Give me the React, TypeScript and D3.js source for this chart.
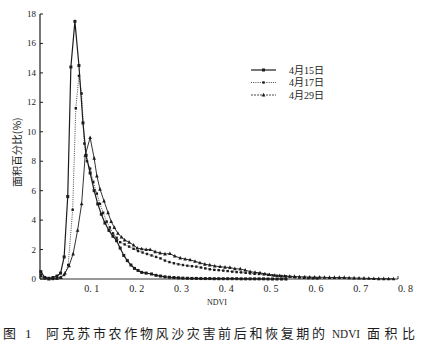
import React from "react";
import * as d3 from "d3";

type P = [number, number];

const seriesNames = ["4月15日", "4月17日", "4月29日"];
const xTicks = [0.1, 0.2, 0.3, 0.4, 0.5, 0.6, 0.7, 0.8];
const xTickLabels = ["0. 1", "0. 2", "0. 3", "0. 4", "0. 5", "0. 6", "0. 7", "0. 8"];
const yTicks = [0, 2, 4, 6, 8, 10, 12, 14, 16, 18];

const apr15: P[] = [
  [0.003, 0.5], [0.012, 0.1], [0.021, 0.05], [0.03, 0.1], [0.039, 0.2], [0.047, 0.4],
  [0.055, 1.5], [0.063, 5.6], [0.07, 14.4], [0.079, 17.5], [0.088, 14.5], [0.097, 10.6],
  [0.104, 8.4], [0.113, 7.2], [0.122, 6.0], [0.13, 5.1], [0.138, 4.4], [0.146, 3.8],
  [0.155, 3.3], [0.164, 2.9], [0.172, 2.6], [0.18, 2.1], [0.188, 1.6], [0.196, 1.25],
  [0.204, 0.95], [0.212, 0.72], [0.22, 0.58], [0.228, 0.45], [0.238, 0.4], [0.25, 0.34],
  [0.26, 0.25], [0.27, 0.2], [0.28, 0.15], [0.29, 0.12], [0.3, 0.1], [0.31, 0.08],
  [0.32, 0.06], [0.33, 0.05], [0.34, 0.04], [0.35, 0.04], [0.36, 0.03], [0.37, 0.03],
  [0.38, 0.03], [0.39, 0.02], [0.4, 0.02], [0.41, 0.02], [0.42, 0.02], [0.43, 0.02],
  [0.44, 0.02], [0.45, 0.01], [0.46, 0.01], [0.47, 0.01], [0.48, 0.01], [0.49, 0.01],
  [0.5, 0.01], [0.51, 0], [0.52, 0], [0.53, 0], [0.54, 0], [0.55, 0],
];

const apr17: P[] = [
  [0.003, 0.3], [0.012, 0.1], [0.021, 0.05], [0.03, 0], [0.039, 0.05], [0.047, 0.1],
  [0.055, 0.27], [0.064, 0.95], [0.074, 4.7], [0.081, 11.6], [0.088, 13.8], [0.094, 12.6],
  [0.1, 9.2], [0.106, 8.0], [0.113, 7.5], [0.12, 6.6], [0.128, 5.8], [0.135, 5.1],
  [0.142, 4.5], [0.15, 3.9], [0.157, 3.5], [0.164, 3.1], [0.172, 2.8], [0.18, 2.5],
  [0.19, 2.35], [0.2, 2.2], [0.21, 2.05], [0.22, 1.9], [0.23, 1.8], [0.24, 1.7],
  [0.25, 1.6], [0.26, 1.5], [0.27, 1.4], [0.28, 1.25], [0.29, 1.15], [0.3, 1.07],
  [0.31, 1.0], [0.32, 0.95], [0.33, 0.9], [0.34, 0.87], [0.35, 0.84], [0.36, 0.78],
  [0.37, 0.72], [0.38, 0.66], [0.39, 0.62], [0.4, 0.6], [0.41, 0.57], [0.42, 0.54],
  [0.43, 0.5], [0.44, 0.47], [0.45, 0.45], [0.46, 0.42], [0.47, 0.38], [0.48, 0.35],
  [0.49, 0.34], [0.5, 0.32], [0.51, 0.28], [0.52, 0.25], [0.53, 0.22], [0.54, 0.2],
  [0.55, 0.18], [0.56, 0.15], [0.57, 0.12], [0.58, 0.1], [0.59, 0.08], [0.6, 0.06],
  [0.61, 0.05], [0.62, 0.04],
];

const apr29: P[] = [
  [0.003, 0.2], [0.012, 0.05], [0.021, 0], [0.03, 0.05], [0.039, 0.05], [0.048, 0.1],
  [0.057, 0.4], [0.066, 0.9], [0.075, 1.7], [0.085, 3.3], [0.094, 5.1], [0.102, 8.4],
  [0.113, 9.6], [0.122, 8.2], [0.128, 7.0], [0.135, 6.1], [0.144, 5.3], [0.153, 4.5],
  [0.16, 3.9], [0.167, 3.5], [0.175, 3.1], [0.183, 2.85], [0.19, 2.65], [0.2, 2.5],
  [0.21, 2.3], [0.218, 2.1], [0.228, 2.05], [0.238, 2.0], [0.247, 2.0], [0.258, 1.85],
  [0.269, 1.77], [0.28, 1.7], [0.291, 1.72], [0.302, 1.55], [0.314, 1.43], [0.325, 1.35],
  [0.336, 1.3], [0.347, 1.2], [0.358, 1.1], [0.369, 1.0], [0.38, 0.95], [0.391, 0.88],
  [0.403, 0.84], [0.414, 0.8], [0.425, 0.78], [0.436, 0.7], [0.448, 0.68], [0.459, 0.6],
  [0.47, 0.5], [0.481, 0.45], [0.492, 0.42], [0.503, 0.35], [0.513, 0.3], [0.525, 0.25],
  [0.536, 0.22], [0.547, 0.2], [0.558, 0.18], [0.569, 0.17], [0.58, 0.15], [0.592, 0.14],
  [0.603, 0.13], [0.614, 0.12], [0.625, 0.12], [0.636, 0.11], [0.647, 0.1], [0.658, 0.1],
  [0.669, 0.1], [0.68, 0.1], [0.691, 0.08], [0.702, 0.07], [0.713, 0.06], [0.724, 0.05],
  [0.735, 0.04], [0.746, 0.03], [0.757, 0.02], [0.768, 0.02], [0.779, 0.01], [0.79, 0.01],
];

const INK = "#1c1c1c";
const SERIF = "'Liberation Serif', 'DejaVu Serif', serif";
const CJK = "'Noto Sans CJK SC', sans-serif";

export default function App() {
  const x = d3.scaleLinear().domain([0, 0.8]).range([39.5, 398]);
  const y = d3.scaleLinear().domain([0, 18]).range([279, 14]);
  const line = d3.line<P>().x((d) => x(d[0])).y((d) => y(d[1]));

  const sq = (d: P, s: number, k: string) => (
    <rect key={k} x={x(d[0]) - s / 2} y={y(d[1]) - s / 2} width={s} height={s} fill={INK} />
  );
  const tri = (cx: number, cy: number, s: number, k: string) => (
    <path
      key={k}
      d={`M${cx},${cy - s * 0.6}L${cx + s / 2},${cy + s * 0.4}L${cx - s / 2},${cy + s * 0.4}Z`}
      fill={INK}
    />
  );

  const legendY = [70, 82.5, 95];
  const lx0 = 251, lx1 = 276, lmid = 263.5;

  return (
    <svg
      width={437}
      height={351}
      style={{ position: "absolute", left: 0, top: 0, background: "#fff" }}
    >
      {/* y axis */}
      <line x1={40} x2={40} y1={y(0)} y2={y(18)} stroke={INK} strokeWidth={1.2} />
      {yTicks.map((t) => (
        <g key={t}>
          <line x1={40} x2={43} y1={y(t)} y2={y(t)} stroke={INK} strokeWidth={1} />
          <text x={36} y={y(t)} dy="0.33em" textAnchor="end" fontFamily={SERIF} fontSize={9} fill={INK}>
            {t}
          </text>
        </g>
      ))}
      {/* x baseline */}
      <line x1={40} x2={x(0.8)} y1={y(0)} y2={y(0)} stroke={INK} strokeWidth={0.9} />
      <line x1={x(0.8)} x2={x(0.8)} y1={y(0)} y2={y(0) - 3} stroke={INK} strokeWidth={0.9} />
      {xTicks.map((t, i) => (
        <text key={t} x={x(t)} y={292} textAnchor="start" fontFamily={SERIF} fontSize={10} fill={INK}>
          {xTickLabels[i]}
        </text>
      ))}
      <text x={217} y={305} textAnchor="middle" fontFamily={SERIF} fontSize={8} fill={INK}>
        NDVI
      </text>
      <text
        transform="translate(21,152) rotate(-90)"
        textAnchor="middle"
        fontFamily={CJK}
        fontSize={10.5}
        fill={INK}
      >
        面积百分比(%)
      </text>

      {/* series */}
      <path d={line(apr29) || ""} fill="none" stroke={INK} strokeWidth={0.9} />
      <path d={line(apr17) || ""} fill="none" stroke={INK} strokeWidth={0.8} strokeDasharray="1,1.2" />
      <path d={line(apr15) || ""} fill="none" stroke={INK} strokeWidth={1.2} />
      {apr29.map((d, i) => tri(x(d[0]), y(d[1]), 3.6, "t" + i))}
      {apr17.map((d, i) => sq(d, 2.4, "b" + i))}
      {apr15.map((d, i) => sq(d, 3, "a" + i))}

      {/* legend */}
      <line x1={lx0} x2={lx1} y1={legendY[0]} y2={legendY[0]} stroke={INK} strokeWidth={1.2} />
      <rect x={lmid - 1.5} y={legendY[0] - 1.5} width={3} height={3} fill={INK} />
      <line x1={lx0} x2={lx1} y1={legendY[1]} y2={legendY[1]} stroke={INK} strokeWidth={0.8} strokeDasharray="1,1.2" />
      <rect x={lmid - 1.2} y={legendY[1] - 1.2} width={2.4} height={2.4} fill={INK} />
      <line x1={lx0} x2={lx1} y1={legendY[2]} y2={legendY[2]} stroke={INK} strokeWidth={0.8} strokeDasharray="2,1" />
      {tri(lmid, legendY[2], 3.6, "lt")}
      {seriesNames.map((n, i) => (
        <text key={n} x={289} y={legendY[i]} dy="0.35em" fontFamily={`${SERIF}, ${CJK}`} fontSize={10} fill={INK}>
          {n}
        </text>
      ))}

      {/* caption */}
      <g fontFamily={`${SERIF}, ${CJK}`} fontSize={13} fill={INK}>
        <text x={3} y={338}>图</text>
        <text x={25} y={338}>1</text>
        <text x={46} y={338} textLength={279} lengthAdjust="spacing">
          阿克苏市农作物风沙灾害前后和恢复期的
        </text>
        <text x={332} y={338} textLength={28} lengthAdjust="spacingAndGlyphs">NDVI</text>
        <text x={367} y={338} textLength={48} lengthAdjust="spacing">面积比</text>
      </g>
    </svg>
  );
}
